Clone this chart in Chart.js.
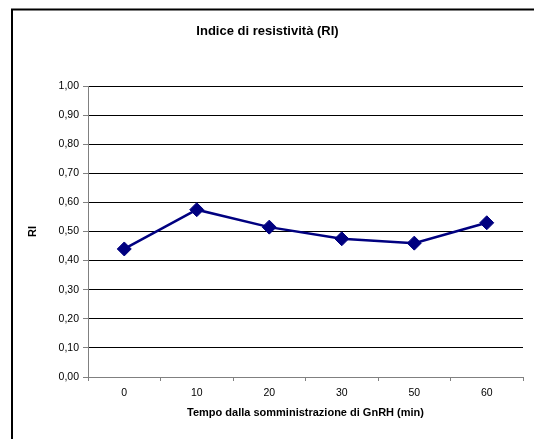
<!DOCTYPE html>
<html>
<head>
<meta charset="utf-8">
<script src="https://cdn.jsdelivr.net/npm/chart.js@4/dist/chart.umd.min.js"></script>
<style>
  html, body { margin: 0; padding: 0; background: #fff; }
  canvas { display: block; }
</style>
</head>
<body>
<canvas id="riChart" width="534" height="439"></canvas>
<script>
// --- Data ---
const TIMES = ["0", "10", "20", "30", "50", "60"];
const RI_VALUES = [0.44, 0.575, 0.515, 0.475, 0.46, 0.53];
const Y_MIN = 0;
const Y_MAX = 1;
const Y_STEP = 0.1;

const FONT = "'Liberation Sans', Arial, sans-serif";
const NAVY = "#000080";
const AXIS_GREY = "#808080";

// --- Outer frame (only the top and left edges fall inside the page) ---
const framePlugin = {
  id: "frame",
  beforeDraw(chart) {
    const ctx = chart.ctx;
    ctx.save();
    ctx.strokeStyle = "#000";
    ctx.lineWidth = 2;
    ctx.beginPath();
    ctx.moveTo(12, chart.height + 5);
    ctx.lineTo(12, 9.5);
    ctx.lineTo(chart.width + 5, 9.5);
    ctx.stroke();
    ctx.restore();
  },
};

// comma as decimal separator
const fmt = (v) => v.toFixed(2).replace(".", ",");

const ctx = document.getElementById("riChart").getContext("2d");
new Chart(ctx, {
  type: "line",
  data: {
    labels: TIMES,
    datasets: [
      {
        label: "RI",
        data: RI_VALUES,
        borderColor: NAVY,
        backgroundColor: NAVY,
        borderWidth: 2.5,
        pointStyle: "rectRot",
        pointRadius: 7,
        pointBorderWidth: 1,
        pointBorderColor: NAVY,
        pointBackgroundColor: NAVY,
        tension: 0,
        fill: false,
      },
    ],
  },
  options: {
    responsive: false,
    animation: false,
    devicePixelRatio: 1,
    layout: { padding: { left: 12, right: 11, top: 0, bottom: 0 } },
    plugins: {
      legend: { display: false },
      tooltip: { enabled: false },
      title: {
        display: true,
        text: "Indice di resistività (RI)",
        color: "#000",
        font: { family: FONT, size: 13, weight: "bold", lineHeight: 1.2 },
        padding: { top: 24, bottom: 46.4 },
      },
    },
    scales: {
      x: {
        type: "category",
        offset: true,
        afterFit: (scale) => {
          scale.height = 62;
        },
        grid: {
          offset: true,
          drawOnChartArea: false,
          drawTicks: true,
          tickLength: 4,
          tickColor: AXIS_GREY,
          color: AXIS_GREY,
        },
        border: { display: true, color: AXIS_GREY, width: 1 },
        ticks: {
          color: "#000",
          font: { family: FONT, size: 10.5 },
          padding: 6,
          maxRotation: 0,
        },
        title: {
          display: true,
          text: "Tempo dalla somministrazione di GnRH (min)",
          color: "#000",
          font: { family: FONT, size: 11, weight: "bold", lineHeight: 1.2 },
          padding: { top: 0, bottom: 19.5 },
        },
      },
      y: {
        min: Y_MIN,
        max: Y_MAX,
        afterFit: (scale) => {
          scale.width = 76;
        },
        grid: {
          color: "#000",
          lineWidth: 1,
          drawTicks: true,
          tickLength: 5,
          tickColor: AXIS_GREY,
        },
        border: { display: true, color: AXIS_GREY, width: 1 },
        ticks: {
          stepSize: Y_STEP,
          color: "#000",
          font: { family: FONT, size: 10.5 },
          padding: 4,
          callback: (v) => fmt(v),
        },
        title: {
          display: true,
          text: "RI",
          color: "#000",
          font: { family: FONT, size: 11, weight: "bold", lineHeight: 1.2 },
          padding: { top: 14.5, bottom: 0 },
        },
      },
    },
  },
  plugins: [framePlugin],
});
</script>
</body>
</html>
